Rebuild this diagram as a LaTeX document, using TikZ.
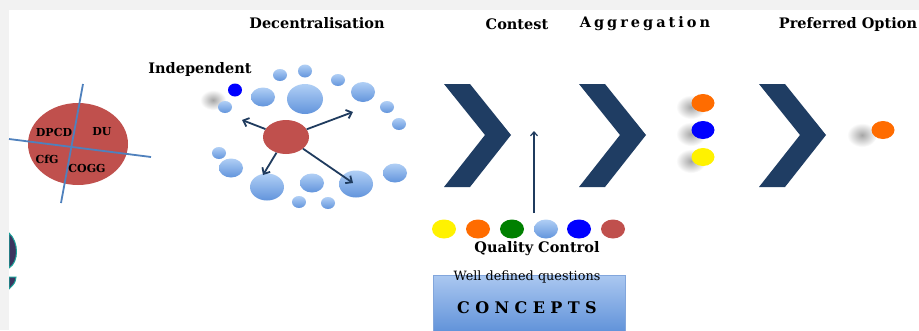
\documentclass[tikz,border=0pt]{standalone}
\usepackage{fontspec}
\setmainfont{DejaVu Serif}
\usetikzlibrary{shapes.geometric,arrows.meta}
\definecolor{navy}{RGB}{31,61,99}
\definecolor{arrowblue}{RGB}{31,59,94}
\definecolor{orgred}{RGB}{192,80,77}
\definecolor{crossblue}{RGB}{79,129,189}
\definecolor{bandgray}{RGB}{242,242,242}
\definecolor{chiporange}{RGB}{255,108,0}
\definecolor{chipgreen}{RGB}{0,128,0}
\definecolor{balltop}{RGB}{176,207,245}
\definecolor{ballbot}{RGB}{98,148,220}
\definecolor{boxtop}{RGB}{170,199,240}
\definecolor{boxbot}{RGB}{92,143,216}
\definecolor{boxedge}{RGB}{130,166,220}
\definecolor{logodark}{RGB}{60,52,95}
\definecolor{logoteal}{RGB}{26,163,154}
\newcommand{\chevroncell}{\fill[navy] (0,0) -- (26,0) -- (67,51) -- (26,103) -- (0,103) -- (41,51) -- cycle;}
\tikzset{
	bub/.style={ellipse, top color=balltop, bottom color=ballbot, inner sep=0pt},
	chip/.style={ellipse, fill=#1, minimum width=23, minimum height=18, inner sep=0pt},
	halo/.style={ellipse, inner color=black!35, outer color=white, minimum width=30, minimum height=24},
	head/.style={font=\bfseries\fontsize{14.5}{16}\selectfont, inner sep=0pt},
	quad/.style={font=\bfseries\fontsize{11}{12}\selectfont, inner sep=0pt},
	spoke/.style={draw=arrowblue, line width=1.8pt, -{Straight Barb[length=5pt,width=9pt]}}
}

\begin{document}
\begin{tikzpicture}[x=1pt,y=-1pt]
	\useasboundingbox (0,0) rectangle (919,330);
	\fill[white] (0,0) rectangle (919,330);

	\fill[logodark, draw=logoteal, line width=1pt] (9,233) .. controls (19,242) and (19,262) .. (9,268) -- cycle;
	\fill[logodark, draw=logoteal, line width=1pt] (9,277) -- (16,277) .. controls (15,283) .. (9,289) -- cycle;
	\fill[bandgray] (0,0) rectangle (919,10);
	\fill[bandgray] (0,0) rectangle (9,330);

	\node[ellipse, fill=orgred, minimum width=100, minimum height=82] (org) at (78,144) {};
	\coordinate (crossW) at (9,139);
	\coordinate (crossE) at (151,157);
	\coordinate (crossN) at (83,84);
	\coordinate (crossS) at (61,203);
	\draw[crossblue, line width=1.8pt] (crossW) -- (crossE);
	\draw[crossblue, line width=1.8pt] (crossN) -- (crossS);
	\node[quad] (dpcd) at (54,132) {DPCD};
	\node[quad] (du) at (102,132) {DU};
	\node[quad] (cfg) at (47,159) {CfG};
	\node[quad] (cogg) at (87,168) {COGG};

	\node[head] (decent) at (317,23) {Decentralisation};
	\node[head] (contest) at (517,24) {Contest};
	\node[head] (aggr) at (645,24) {\spaceskip=3pt A g g r e g a t i o n};
	\node[head] (pref) at (848,24) {Preferred Option};
	\node[head] (indep) at (200,69) {Independent};

	\node[halo, minimum width=26, minimum height=20] (indepHalo) at (213,100) {};
	\node[chip=blue, minimum width=14, minimum height=13] (indepChip) at (235,90) {};

	\node[bub, minimum width=14, minimum height=12] (bub1) at (280,75) {};
	\node[bub, minimum width=14, minimum height=13] (bub2) at (305,71) {};
	\node[bub, minimum width=14, minimum height=12] (bub3) at (338,80) {};
	\node[bub, minimum width=24, minimum height=19] (bub4) at (263,97) {};
	\node[bub, minimum width=36, minimum height=30] (bub5) at (305,99) {};
	\node[bub, minimum width=24, minimum height=20] (bub6) at (363,92) {};
	\node[bub, minimum width=14, minimum height=12] (bub7) at (387,107) {};
	\node[bub, minimum width=14, minimum height=12] (bub8) at (399,124) {};
	\node[bub, minimum width=14, minimum height=12] (bub9) at (225,107) {};
	\node[bub, minimum width=14, minimum height=12] (bub10) at (219,153) {};
	\node[bub, minimum width=24, minimum height=19] (bub11) at (231,168) {};
	\node[bub, minimum width=34, minimum height=27] (bub12) at (267,187) {};
	\node[bub, minimum width=24, minimum height=19] (bub13) at (312,183) {};
	\node[bub, minimum width=34, minimum height=27] (bub14) at (356,184) {};
	\node[bub, minimum width=24, minimum height=19] (bub15) at (395,173) {};
	\node[bub, minimum width=14, minimum height=12] (bub16) at (299,202) {};
	\node[bub, minimum width=14, minimum height=12] (bub17) at (328,203) {};

	\node[ellipse, fill=orgred, minimum width=46, minimum height=34, inner sep=0pt] (hub) at (286,137) {};
	\coordinate (spokeUL) at (242,120);
	\coordinate (spokeUR) at (353,112);
	\coordinate (spokeDL) at (263,175);
	\coordinate (spokeDR) at (353,183);
	\draw[spoke] (hub) -- (spokeUL);
	\draw[spoke] (hub) -- (spokeUR);
	\draw[spoke] (hub) -- (spokeDL);
	\draw[spoke] (hub) -- (spokeDR);

	\begin{scope}[shift={(444,84)}]
		\chevroncell
	\end{scope}

	\begin{scope}[shift={(579,84)}]
		\chevroncell
	\end{scope}

	\begin{scope}[shift={(759,84)}]
		\chevroncell
	\end{scope}

	\coordinate (qcBase) at (534,213);
	\coordinate (qcTip) at (534,131);
	\draw[arrowblue, line width=1.2pt, -{Straight Barb[length=4pt,width=7pt]}] (qcBase) -- (qcTip);

	\node[halo] (aggHalo1) at (691,107) {};
	\node[halo] (aggHalo2) at (691,134) {};
	\node[halo] (aggHalo3) at (691,161) {};
	\node[chip=chiporange] (agg1) at (703,103) {};
	\node[chip=blue] (agg2) at (703,130) {};
	\node[chip=yellow] (agg3) at (703,157) {};

	\node[halo] (prefHalo) at (862,135) {};
	\node[chip=chiporange] (prefChip) at (883,130) {};

	\node[chip=yellow, minimum width=24, minimum height=19] (qc1) at (444,229) {};
	\node[chip=chiporange, minimum width=24, minimum height=19] (qc2) at (478,229) {};
	\node[chip=chipgreen, minimum width=24, minimum height=19] (qc3) at (512,229) {};
	\node[bub, minimum width=24, minimum height=19] (qc4) at (546,229) {};
	\node[chip=blue, minimum width=24, minimum height=19] (qc5) at (579,229) {};
	\node[chip=orgred, minimum width=24, minimum height=19] (qc6) at (613,229) {};
	\node[head] (qcLabel) at (537,249) {Quality Control};

	\node[draw=boxedge, line width=1pt, top color=boxtop, bottom color=boxbot, minimum width=192, minimum height=60, inner sep=0pt, anchor=north west] (concepts) at (433,275) {};
	\node[font=\fontsize{12.8}{14}\selectfont, inner sep=0pt] (questions) at (527,277) {Well defined questions};
	\node[font=\bfseries\fontsize{16}{18}\selectfont, inner sep=0pt] (conceptsText) at (527,308) {\spaceskip=5.4pt C O N C E P T S};
\end{tikzpicture}
\end{document}
